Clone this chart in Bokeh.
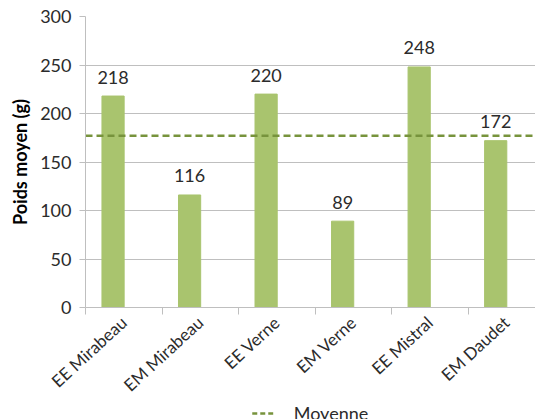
import math
from bokeh.plotting import figure
from bokeh.layouts import column
from bokeh.models import FixedTicker, Range1d, Legend, LegendItem, ColumnDataSource
from bokeh.core.properties import value
from bokeh.embed import file_html
from bokeh.resources import INLINE

# Mean weight per site
categories = ["EE Mirabeau", "EM Mirabeau", "EE Verne", "EM Verne", "EE Mistral", "EM Daudet"]
poids = [218, 116, 220, 89, 248, 172]
y_ticks = [0, 50, 100, 150, 200, 250, 300]

moyenne = sum(poids) / len(poids)
n = len(categories)

FONT = "Lato"
FONT_SIZE = "18px"
TEXT_COLOR = "#2b2b2b"
AXIS_COLOR = "#BFBFBF"
BAR_COLOR = "#A9C46E"
LINE_COLOR = "#77933C"

W = 535
H_MAIN = 407
X_END = 5.88       # last category runs past the right edge

idx = list(range(n))
bar_x = [i + 0.36 for i in idx]
label_x = [i + 0.5 for i in idx]

src = ColumnDataSource(dict(x=bar_x, top=poids, txt=[str(v) for v in poids]))

p = figure(width=W, height=H_MAIN,
           x_range=Range1d(0, X_END), y_range=Range1d(0, 300),
           output_backend="svg", toolbar_location=None,
           min_border_left=85, min_border_right=0,
           min_border_top=16, min_border_bottom=100)
p.outline_line_color = None
p.background_fill_color = "white"
p.border_fill_color = "white"

p.vbar(x="x", top="top", width=0.29, color=BAR_COLOR, source=src)
p.text(x="x", y="top", text="txt", source=src, text_align="center",
       text_baseline="alphabetic", y_offset=-19,
       text_font=value(FONT), text_font_size=FONT_SIZE, text_color=TEXT_COLOR)

p.line(x=[0, n], y=[moyenne, moyenne], line_color=LINE_COLOR,
       line_width=2.5, line_dash="7 4")

# Y axis
p.yaxis.ticker = FixedTicker(ticks=y_ticks)
p.yaxis.axis_label = "Poids moyen (g)"
p.yaxis.axis_label_text_font = FONT
p.yaxis.axis_label_text_font_style = "bold"
p.yaxis.axis_label_text_font_size = FONT_SIZE
p.yaxis.axis_label_text_color = "#000000"
p.yaxis.axis_label_standoff = 6
p.yaxis.major_label_text_font = FONT
p.yaxis.major_label_text_font_size = FONT_SIZE
p.yaxis.major_label_text_color = TEXT_COLOR
p.yaxis.major_label_standoff = 8
p.yaxis.axis_line_color = AXIS_COLOR
p.yaxis.major_tick_line_color = AXIS_COLOR
p.yaxis.major_tick_out = 6
p.yaxis.major_tick_in = 0
p.yaxis.minor_tick_line_color = None

# X axis: names at category centres, tick marks between categories
p.xaxis.ticker = FixedTicker(ticks=label_x, minor_ticks=idx + [n])
p.xaxis.major_label_overrides = {x: c for x, c in zip(label_x, categories)}
p.xaxis.major_label_orientation = 0.745
p.xaxis.major_label_text_font = FONT
p.xaxis.major_label_text_font_size = "17px"
p.xaxis.major_label_text_color = TEXT_COLOR
p.xaxis.major_label_standoff = 5
p.xaxis.axis_line_color = AXIS_COLOR
p.xaxis.major_tick_line_color = None
p.xaxis.major_tick_out = 0
p.xaxis.minor_tick_line_color = AXIS_COLOR
p.xaxis.minor_tick_out = 7
p.xaxis.minor_tick_in = 0

p.xgrid.visible = False
p.ygrid.ticker = FixedTicker(ticks=y_ticks)
p.ygrid.grid_line_color = AXIS_COLOR

# Legend strip under the chart
strip = figure(width=W, height=419 - H_MAIN, x_range=Range1d(0, 1), y_range=Range1d(0, 1),
               output_backend="svg", toolbar_location=None,
               x_axis_location=None, y_axis_location=None, min_border=0)
strip.outline_line_color = None
strip.grid.visible = False
strip.background_fill_color = "white"
strip.border_fill_color = "white"

# Mean line repeated here (outside the strip's y range) to key the legend
mean_key = strip.line(x=[0, n], y=[moyenne, moyenne], line_color=LINE_COLOR,
                      line_width=2.5, line_dash="5 3")
legend = Legend(items=[LegendItem(label="Moyenne", renderers=[mean_key])],
                location="center", orientation="horizontal",
                border_line_color=None, background_fill_alpha=0,
                label_text_font=FONT, label_text_font_size=FONT_SIZE,
                label_text_color=TEXT_COLOR, glyph_width=22, label_standoff=20,
                padding=0, margin=0)
strip.add_layout(legend, "center")

layout = column(p, strip, spacing=0)
open("out.html", "w").write(file_html(layout, INLINE))
